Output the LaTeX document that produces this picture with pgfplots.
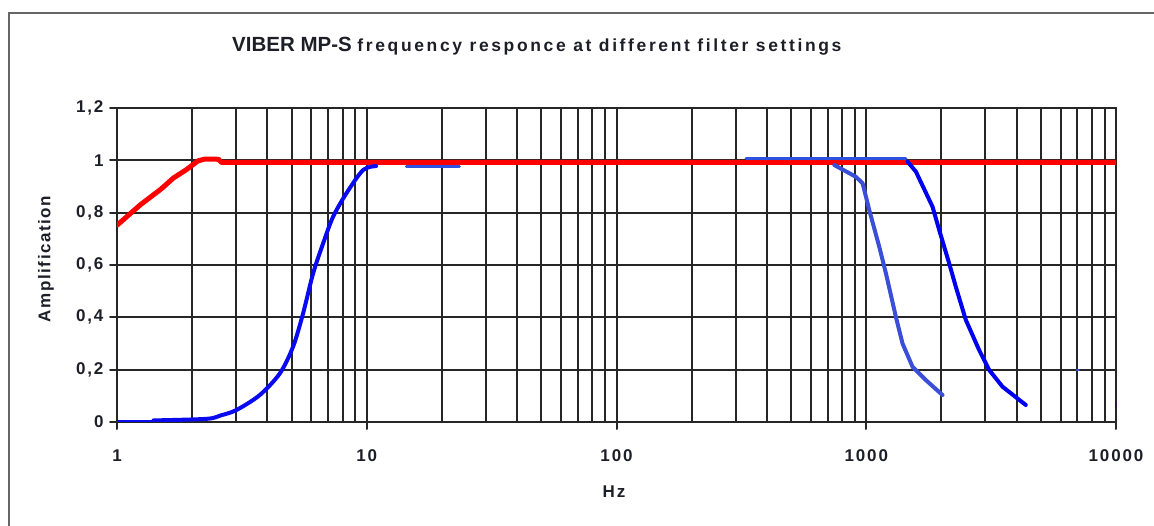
\documentclass[border=0pt]{standalone}
\usepackage{fontspec}
\setmainfont{Liberation Sans}
\usepackage{pgfplots}
\pgfplotsset{compat=1.18}
\definecolor{gridc}{HTML}{262626}
\definecolor{labc}{HTML}{1E1E28}
\definecolor{bluea}{HTML}{0A0AF0}
\definecolor{blueb}{HTML}{3A4ED8}
\definecolor{bluec}{HTML}{0000F0}
\definecolor{bluetop}{HTML}{3050E0}
\newcommand\tlfont{\fontsize{17}{19}\selectfont\bfseries\addfontfeature{LetterSpace=11}}
\begin{document}
\begin{tikzpicture}[x=1pt,y=1pt]
\path[use as bounding box] (0,0) rectangle (1154,525);
\draw[black!60, line width=2pt] (9,-40) rectangle (1220,512);
\begin{axis}[
  at={(117pt,103pt)}, anchor=south west, scale only axis,
  width=999pt, height=314pt,
  xmode=log, xmin=1, xmax=10000, ymin=0, ymax=1.2,
  xtick={1,10,100,1000,10000}, xticklabels={1,10,100,1000,10000},
  minor xtick={2,3,4,5,6,7,8,9,20,30,40,50,60,70,80,90,200,300,400,500,600,700,800,900,2000,3000,4000,5000,6000,7000,8000,9000},
  ytick={0,0.2,0.4,0.6,0.8,1,1.2},
  yticklabels={0,{0,2},{0,4},{0,6},{0,8},1,{1,2}},
  grid=both,
  major grid style={gridc, line width=2pt},
  minor grid style={gridc, line width=2pt},
  axis line style={gridc, line width=2pt},
  tick pos=left,
  tick align=outside, major tick length=7pt, minor tick length=0pt,
  every tick/.style={gridc, line width=2pt},
  every tick label/.append style={font=\tlfont, text=labc},
  xticklabel style={anchor=center, yshift=-27pt},
  yticklabel style={anchor=east, xshift=-3pt},
  line join=round, line cap=round,
]
\addplot[red, line width=5pt] coordinates {
 (1,0.752) (1.24,0.83) (1.5,0.89) (1.68,0.932) (1.9,0.965) (2.11,0.998) (2.25,1.005) (2.55,1.004) (2.62,0.992) (10000,0.992)
};
\addplot[bluea, line width=2.5pt] coordinates {(1,0.004) (1.4,0.004)};
\addplot[bluea, line width=4pt, smooth, tension=0.5] coordinates {
 (1.4,0.006) (2.28,0.012) (2.6,0.025) (3.01,0.046) (3.73,0.103) (4.49,0.186) (5.07,0.288) (5.56,0.415) (6.1,0.568) (6.69,0.683) (7.33,0.784) (8.29,0.874) (9.67,0.963) (10.9,0.978)
};
\addplot[bluetop, line width=3pt] coordinates {(14.4,0.978) (23.5,0.978)};
\addplot[bluetop, line width=3pt] coordinates {(330,1.008) (1442,1.008)};
\addplot[blueb, line width=4pt] coordinates {
 (745,0.982) (909,0.937) (967,0.912) (1028,0.81) (1127,0.67) (1199,0.568) (1314,0.402) (1397,0.30) (1532,0.211) (1733,0.16) (2020,0.103)
};
\addplot[bluec, line width=4pt] coordinates {
 (1463,0.995) (1580,0.957) (1842,0.823) (1959,0.734) (2148,0.606) (2283,0.517) (2504,0.39) (2831,0.275) (3105,0.199) (3511,0.135) (4352,0.065)
};
\addplot[blueb, line width=2pt] coordinates {(6950,0.199) (7100,0.199)};
\addplot[bluec, line width=3pt] coordinates {(10000,0.058) (10000,0.075)};
\end{axis}
\node[anchor=base west, text=labc, inner sep=0pt] at (232,473)
  {\bfseries\fontsize{20.5}{22}\selectfont VIBER MP-S \fontsize{17.5}{19}\selectfont\addfontfeature{LetterSpace=15}frequency responce at different filter settings};
\node[rotate=90, text=labc, inner sep=0pt] at (46,266) {\fontsize{17}{19}\selectfont\bfseries\addfontfeature{LetterSpace=9}Amplification};
\node[text=labc, inner sep=0pt] at (614,33) {\tlfont Hz};
\end{tikzpicture}
\end{document}
